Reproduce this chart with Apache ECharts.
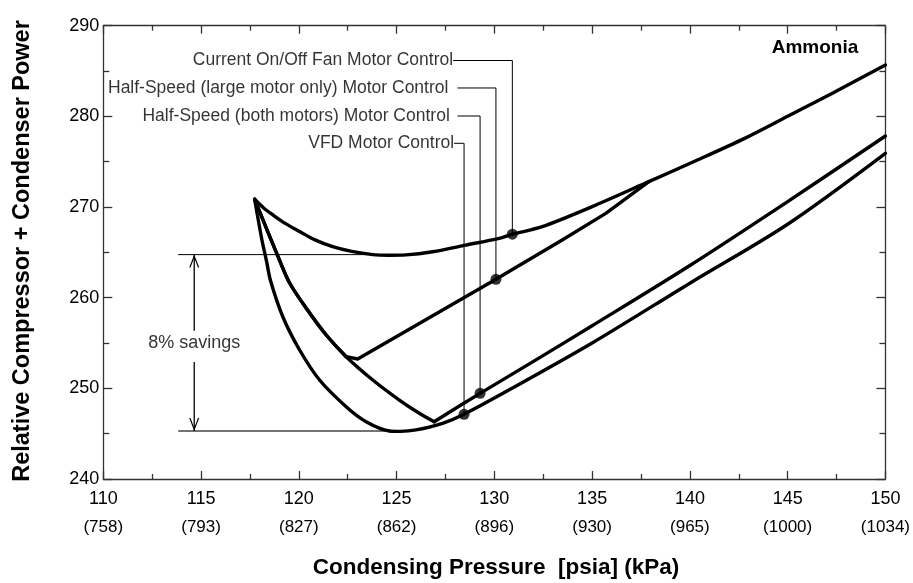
<!DOCTYPE html>
<html><head><meta charset="utf-8">
<script src="https://cdn.jsdelivr.net/npm/echarts@6/dist/echarts.min.js"></script>
<style>html,body{margin:0;padding:0;background:#fff}#c{width:913px;height:583px}</style>
</head><body><div id="c"></div>
<script>
// ---- tick labels ----
const psiaTicks = [110, 115, 120, 125, 130, 135, 140, 145, 150];
const kpaTicks = ['(758)', '(793)', '(827)', '(862)', '(896)', '(930)', '(965)', '(1000)', '(1034)'];
const yTickValues = [240, 250, 260, 270, 280, 290];

// ---- series: Current On/Off Fan Motor Control ----
const onOffX = [117.74, 118.2, 118.68, 119.3, 120.04, 120.8, 121.73, 122.7, 123.78, 124.6, 125.48, 126.84, 128.54, 130.24, 130.92, 132.45, 135.0, 137.9, 140.3, 142.83, 145.0, 147.24, 150];
const onOffY = [270.85, 269.9, 269.12, 268.2, 267.3, 266.4, 265.62, 265.1, 264.75, 264.68, 264.72, 265.07, 265.8, 266.55, 267.0, 267.83, 270.04, 272.8, 275.1, 277.6, 280.0, 282.5, 285.66];

// ---- series: Half-Speed (large motor only) ----
const halfLargeX = [117.74, 119.01, 119.53, 120.38, 121.4, 122.42, 123.01, 130.08, 133.47, 135.7, 137.9];
const halfLargeY = [270.85, 264.15, 261.62, 258.83, 255.88, 253.49, 253.24, 262.03, 266.36, 269.3, 272.8];

// ---- series: Half-Speed (both motors) ----
const halfBothX = [117.74, 119.01, 119.53, 120.38, 121.4, 122.42, 123.78, 125.14, 126.16, 126.92, 129.27, 132, 135, 140, 145, 150];
const halfBothY = [270.85, 264.15, 261.62, 258.83, 255.88, 253.49, 250.92, 248.71, 247.25, 246.32, 249.45, 252.97, 256.9, 263.55, 270.6, 277.83];

// ---- series: VFD ----
const vfdX = [117.74, 118.1, 118.35, 118.55, 119.18, 120.04, 121.06, 122.42, 123.44, 124.63, 125.2, 125.99, 127.35, 128.45, 131, 135, 140, 145, 150];
const vfdY = [270.85, 266.5, 264.0, 261.9, 257.9, 254.23, 250.92, 247.98, 246.32, 245.3, 245.25, 245.41, 246.14, 247.14, 250.12, 255.0, 261.6, 268.1, 275.92];

// ---- operating points ----
const pointX = [130.92, 130.08, 129.27, 128.45];
const pointY = [267.0, 262.03, 249.45, 247.14];

// ---- annotations ----
const annotText = ['Current On/Off Fan Motor Control', 'Half-Speed (large motor only) Motor Control', 'Half-Speed (both motors) Motor Control', 'VFD Motor Control'];
const annotY = [286.16, 283.13, 280.04, 277.03];
const annotTextEndX = [127.89, 127.65, 127.72, 127.94];
const annotLineStartX = [127.89, 128.11, 128.11, 127.94];

const savingsHighY = 264.75;
const savingsLowY = 245.3;
const savingsLineStartX = 113.83;
const savingsHighEndX = 125.0;
const savingsLowEndX = 124.8;
const savingsArrowX = 114.65;
const savingsTextY = 254.97;
const savingsUpperShaftStart = 256.35;
const savingsLowerShaftStart = 252.9;

// index where each curve changes direction sharply (kink / corner)
const halfLargeKink = 6;
const halfBothCorner = 9;

const FONT = "'Liberation Sans', Arial, sans-serif";
const zip = (xs, ys) => xs.map((x, i) => [x, ys[i]]);

const curveStyle = { color: '#000', width: 3.4, cap: 'round', join: 'round' };
function curve(name, xs, ys, smooth, from, to) {
  const d = zip(xs, ys).slice(from || 0, to === undefined ? xs.length : to);
  return { name, type: 'line', data: d, showSymbol: false, smooth: smooth,
    lineStyle: curveStyle, z: 3, silent: true };
}

const series = [
  curve('Current On/Off Fan Motor Control', onOffX, onOffY, 0.3),
  curve('Half-Speed (large motor only) Motor Control', halfLargeX, halfLargeY, 0.3, 0, halfLargeKink),
  curve('Half-Speed (large motor only) Motor Control', halfLargeX, halfLargeY, false, halfLargeKink - 1),
  curve('Half-Speed (both motors) Motor Control', halfBothX, halfBothY, 0.3, 0, halfBothCorner + 1),
  curve('Half-Speed (both motors) Motor Control', halfBothX, halfBothY, 0.3, halfBothCorner),
  curve('VFD Motor Control', vfdX, vfdY, 0.3),
  { type: 'scatter', data: zip(pointX, pointY), symbol: 'circle', symbolSize: 11,
    itemStyle: { color: '#000' }, z: 6, silent: true },
  { type: 'scatter', data: annotText.map((t, i) => [annotTextEndX[i], annotY[i], t]), symbolSize: 0,
    label: { show: true, position: 'left', distance: 0, color: '#000', fontFamily: FONT, fontSize: 17.5,
      formatter: p => p.value[2] }, silent: true, z: 6 }
];

// leader lines
annotText.forEach((t, i) => {
  series.push({ type: 'line', data: [[annotLineStartX[i], annotY[i]], [pointX[i], annotY[i]], [pointX[i], pointY[i]]],
    showSymbol: false, lineStyle: { color: '#000', width: 1 }, z: 2, silent: true });
});

// savings reference lines
series.push({ type: 'line', data: [[savingsLineStartX, savingsHighY], [savingsHighEndX, savingsHighY]],
  showSymbol: false, lineStyle: { color: '#000', width: 1 }, z: 2, silent: true });
series.push({ type: 'line', data: [[savingsLineStartX, savingsLowY], [savingsLowEndX, savingsLowY]],
  showSymbol: false, lineStyle: { color: '#444', width: 1.6 }, z: 2, silent: true });

// arrows
const upHead = 'path://M0,13 L5,0 L10,13 L8.7,13 L5,3.2 L1.3,13 Z';
const downHead = 'path://M0,0 L5,13 L10,0 L8.7,0 L5,9.8 L1.3,0 Z';
series.push({ type: 'line', showSymbol: true, lineStyle: { color: '#000', width: 1.3 }, itemStyle: { color: '#000', borderWidth: 0 }, z: 4, silent: true,
  data: [{ value: [savingsArrowX, savingsUpperShaftStart], symbol: 'none' },
         { value: [savingsArrowX, savingsHighY], symbol: upHead, symbolSize: [10, 13], symbolOffset: [0, '50%'] }] });
series.push({ type: 'line', showSymbol: true, lineStyle: { color: '#000', width: 1.3 }, itemStyle: { color: '#000', borderWidth: 0 }, z: 4, silent: true,
  data: [{ value: [savingsArrowX, savingsLowerShaftStart], symbol: 'none' },
         { value: [savingsArrowX, savingsLowY], symbol: downHead, symbolSize: [10, 13], symbolOffset: [0, '-50%'] }] });
series.push({ type: 'scatter', data: [[savingsArrowX, savingsTextY]], symbolSize: 0, silent: true, z: 6,
  label: { show: true, position: 'inside', formatter: '8% savings', color: '#000', fontFamily: FONT, fontSize: 18 } });

const axisColor = '#333';
function xAx(pos, labels) {
  return { type: 'value', position: pos, min: psiaTicks[0], max: psiaTicks[psiaTicks.length - 1], interval: 5,
    axisLine: { show: true, onZero: false, lineStyle: { color: axisColor, width: 1.3 } },
    axisTick: { show: true, inside: true, length: 8, lineStyle: { color: axisColor, width: 1.3 } },
    minorTick: { show: true, splitNumber: 2, length: 5, lineStyle: { color: axisColor, width: 1.3 } },
    splitLine: { show: false }, minorSplitLine: { show: false },
    axisLabel: labels ? { show: true, margin: 6, color: '#000',
      formatter: v => { const i = psiaTicks.indexOf(v); return '{a|' + v + '}\n{b|' + (i >= 0 ? kpaTicks[i] : '') + '}'; },
      rich: { a: { fontSize: 18, lineHeight: 28, fontFamily: FONT, color: '#000' },
              b: { fontSize: 17, lineHeight: 28, fontFamily: FONT, color: '#000' } } } : { show: false } };
}
function yAx(pos, labels) {
  return { type: 'value', position: pos, min: yTickValues[0], max: yTickValues[yTickValues.length - 1], interval: 10,
    axisLine: { show: true, onZero: false, lineStyle: { color: axisColor, width: 1.3 } },
    axisTick: { show: true, inside: true, length: 9, lineStyle: { color: axisColor, width: 1.3 } },
    minorTick: { show: true, splitNumber: 2, length: 6, lineStyle: { color: axisColor, width: 1.3 } },
    splitLine: { show: false }, minorSplitLine: { show: false },
    axisLabel: labels ? { show: true, margin: 4, fontSize: 18, fontFamily: FONT, color: '#000' } : { show: false } };
}

const chart = echarts.init(document.getElementById('c'), null, { renderer: 'canvas' });
chart.setOption({
  animation: false,
  backgroundColor: '#fff',
  grid: { left: 103.3, right: 26.3, top: 25.7, bottom: 104, containLabel: false },
  xAxis: [xAx('bottom', true), xAx('top', false)],
  yAxis: [yAx('left', true), yAx('right', false)],
  series: series,
  graphic: [
    { type: 'text', x: 815, y: 47.5, style: { text: 'Ammonia', fill: '#000', font: 'bold 19px ' + FONT, textAlign: 'center', textVerticalAlign: 'middle' } },
    { type: 'text', x: 496, y: 568, style: { text: 'Condensing Pressure  [psia] (kPa)', fill: '#000', font: 'bold 22.5px ' + FONT, textAlign: 'center', textVerticalAlign: 'middle' } },
    { type: 'text', x: 23, y: 251, rotation: Math.PI / 2, style: { text: 'Relative Compressor + Condenser Power', fill: '#000', font: 'bold 23.5px ' + FONT, textAlign: 'center', textVerticalAlign: 'middle' } }
  ]
});
</script></body></html>
